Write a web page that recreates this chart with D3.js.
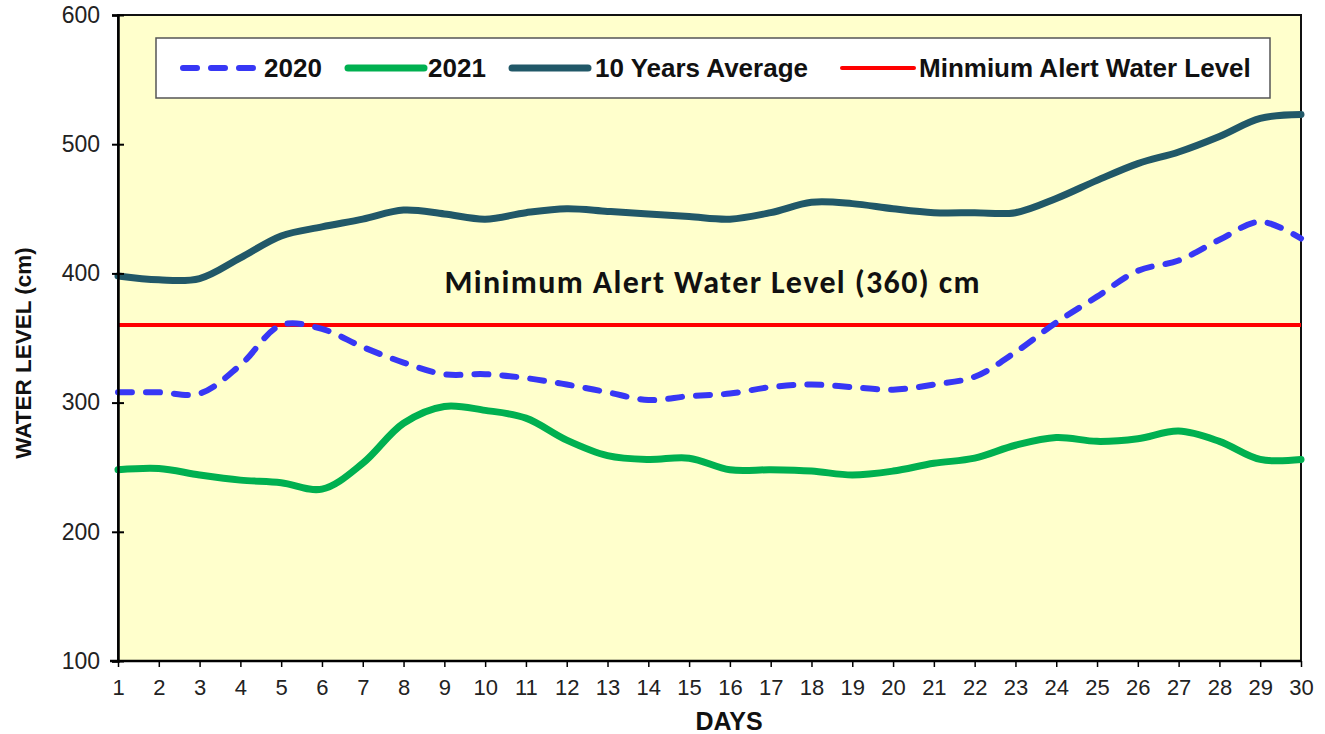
<!DOCTYPE html>
<html>
<head>
<meta charset="utf-8">
<script src="https://cdn.jsdelivr.net/npm/d3@7"></script>
<style>
  body { margin: 0; background: #fff; }
  svg { display: block; }
</style>
</head>
<body>
<svg id="chart" width="1325" height="734"></svg>
<script>
// data
var days = d3.range(1, 31);
var yTicks = [100, 200, 300, 400, 500, 600];
var level2020 = [308, 308, 307, 329, 360, 357, 343, 331, 322, 322, 319, 314, 308, 302, 305, 307, 312, 314, 312, 310, 314, 320, 339, 362, 382, 402, 410, 426, 440, 427];
var level2021 = [248, 249, 244, 240, 238, 233, 253, 284, 297, 294, 288, 271, 259, 256, 257, 248, 248, 247, 244, 247, 253, 257, 267, 273, 270, 272, 278, 270, 256, 256];
var avg10 = [398, 395, 396, 412, 429, 436, 442, 449, 446, 442, 447, 450, 448, 446, 444, 442, 447, 455, 454, 450, 447, 447, 447, 458, 472, 485, 494, 506, 520, 523];
var alertLevel = 360;

var series = [
    {name: "2020", values: level2020, color: "#3737f5", width: 6, dash: "14,14"},
    {name: "2021", values: level2021, color: "#00b050", width: 7, dash: null},
    {name: "10 Years Average", values: avg10, color: "#215868", width: 7, dash: null}
];

var svg = d3.select("#chart");
var padding = {top: 15, right: 24, bottom: 73, left: 118};
var chartArea = {
    "width": 1325 - padding.left - padding.right,
    "height": 734 - padding.top - padding.bottom
};

var xScale = d3.scaleLinear().domain([1, 30]).range([0, chartArea.width]);
var yScale = d3.scaleLinear().domain([100, 600]).range([chartArea.height, 0]);

var g = svg.append("g")
    .attr("transform", "translate(" + padding.left + "," + padding.top + ")");

// fundo amarelo
g.append("rect")
    .attr("width", chartArea.width)
    .attr("height", chartArea.height)
    .attr("fill", "#ffffcc")
    .attr("stroke", "#111")
    .attr("stroke-width", 2);

// linhas
var line = d3.line()
    .x((d, i) => xScale(days[i]))
    .y(d => yScale(d))
    .curve(d3.curveCatmullRom.alpha(0.5));

g.append("line")
    .attr("x1", xScale(1)).attr("x2", xScale(30))
    .attr("y1", yScale(alertLevel)).attr("y2", yScale(alertLevel))
    .attr("stroke", "#ff0000")
    .attr("stroke-width", 4);

series.forEach(s => {
    g.append("path")
        .datum(s.values)
        .attr("d", line)
        .attr("fill", "none")
        .attr("stroke", s.color)
        .attr("stroke-width", s.width)
        .attr("stroke-linecap", "round")
        .attr("stroke-linejoin", "round")
        .attr("stroke-dasharray", s.dash);
});

// eixos
var yAxis = g.append("g")
    .call(d3.axisLeft(yScale).tickValues(yTicks).tickSize(6).tickPadding(14));
yAxis.selectAll(".tick line").attr("x2", 6).attr("x1", -6).attr("stroke", "#000").attr("stroke-width", 2);
yAxis.select(".domain").attr("stroke", "#000").attr("stroke-width", 2.5);
yAxis.selectAll("text")
    .attr("x", -18)
    .style("font-family", "Arial, 'Liberation Sans', sans-serif")
    .style("font-size", "23px")
    .style("fill", "#222");

var xAxis = g.append("g")
    .attr("transform", "translate(0," + chartArea.height + ")")
    .call(d3.axisBottom(xScale).tickValues(days).tickFormat(d3.format("d")).tickSize(6).tickPadding(12));
xAxis.select(".domain").attr("d", "M-8,0H" + chartArea.width).attr("stroke", "#000").attr("stroke-width", 2.5);
xAxis.selectAll(".tick line").attr("stroke", "#000").attr("stroke-width", 1.5);
xAxis.selectAll("text")
    .style("font-family", "Arial, 'Liberation Sans', sans-serif")
    .style("font-size", "22px")
    .style("fill", "#222");

// anotacao
g.append("text")
    .attr("x", 712 - padding.left)
    .attr("y", 293 - padding.top)
    .attr("text-anchor", "middle")
    .attr("textLength", 535)
    .attr("lengthAdjust", "spacing")
    .style("font-family", "Carlito, 'Open Sans', 'Noto Sans', sans-serif")
    .style("font-weight", "bold")
    .style("font-size", "32px")
    .style("fill", "#111")
    .text("Minimum Alert Water Level (360) cm");

// legenda
var legend = svg.append("g");
legend.append("rect")
    .attr("x", 156).attr("y", 38)
    .attr("width", 1114).attr("height", 60)
    .attr("fill", "#fff")
    .attr("stroke", "#555")
    .attr("stroke-width", 1.5);

var legendItems = [
    {name: "2020", color: "#3737f5", width: 6, dash: "14,14", x1: 183, x2: 256, tx: 264},
    {name: "2021", color: "#00b050", width: 7, dash: null, x1: 348, x2: 424, tx: 428},
    {name: "10 Years Average", color: "#215868", width: 7, dash: null, x1: 512, x2: 588, tx: 595},
    {name: "Minmium Alert Water Level", color: "#ff0000", width: 4, dash: null, x1: 842, x2: 914, tx: 919}
];
legendItems.forEach(it => {
    legend.append("line")
        .attr("x1", it.x1).attr("x2", it.x2)
        .attr("y1", 68).attr("y2", 68)
        .attr("stroke", it.color)
        .attr("stroke-width", it.width)
        .attr("stroke-linecap", "round")
        .attr("stroke-dasharray", it.dash);
    legend.append("text")
        .attr("x", it.tx).attr("y", 77)
        .style("font-family", "Arial, 'Liberation Sans', sans-serif")
        .style("font-weight", "bold")
        .style("font-size", "26px")
        .style("fill", "#111")
        .text(it.name);
});

// titulos dos eixos
svg.append("text")
    .attr("x", 729).attr("y", 730)
    .attr("text-anchor", "middle")
    .style("font-family", "Arial, 'Liberation Sans', sans-serif")
    .style("font-weight", "bold")
    .style("font-size", "25px")
    .style("fill", "#111")
    .text("DAYS");

svg.append("text")
    .attr("transform", "translate(31, 353) rotate(-90)")
    .attr("text-anchor", "middle")
    .style("font-family", "Arial, 'Liberation Sans', sans-serif")
    .style("font-weight", "bold")
    .style("font-size", "22.5px")
    .style("fill", "#111")
    .text("WATER LEVEL (cm)");
</script>
</body>
</html>
